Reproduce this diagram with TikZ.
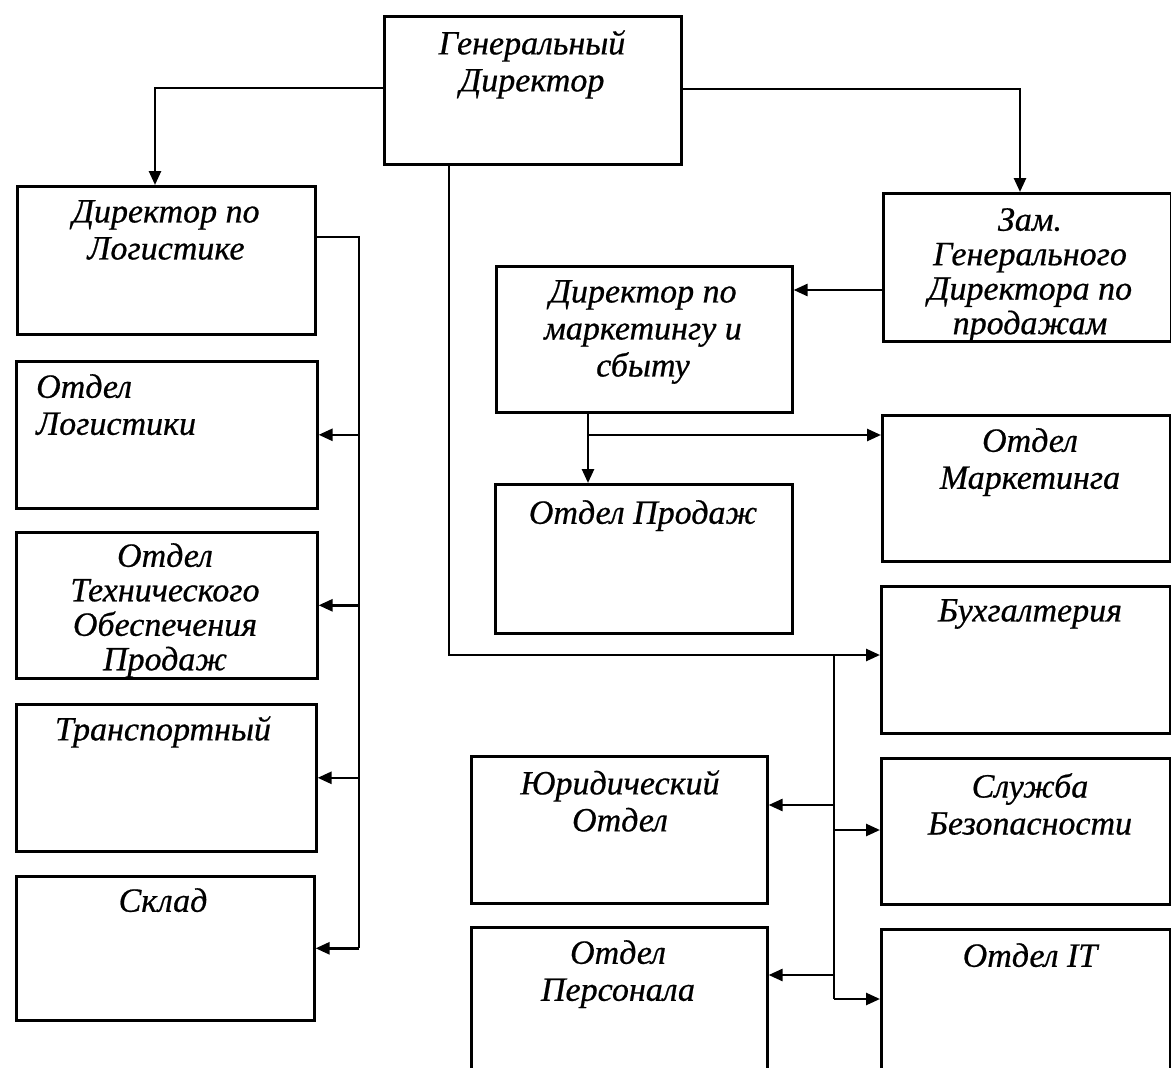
\documentclass[tikz,border=0pt]{standalone}
\usepackage{fontspec}
\setmainfont{Liberation Serif}[ItalicFeatures={FakeBold=0.6}]
\usetikzlibrary{arrows.meta}
\begin{document}
\begin{tikzpicture}[x=1pt,y=-1pt,
  box/.style={draw, line width=2.6pt, anchor=north west, inner sep=0pt},
  lbl/.style={anchor=north, align=center, inner sep=0pt,
    font=\fontsize{34}{37}\selectfont\itshape},
  lbll/.style={lbl, anchor=north west, align=left},
  tight/.style={font=\fontsize{34}{34.5}\selectfont\itshape},
  conn/.style={line width=2.6pt},
  arr/.style={conn, -{Triangle[length=14pt,width=12pt]}}]
\useasboundingbox (0,0) rectangle (1171,1068);
\clip (0,0) rectangle (1171,1068);
\fill[white] (0,0) rectangle (1171,1068);
% boxes
\node[box, minimum width=297pt, minimum height=148pt] (gd)  at (383,15)  {};
\node[box, minimum width=298pt, minimum height=148pt] (dl)  at (16,185)  {};
\node[box, minimum width=301pt, minimum height=147pt] (ol)  at (15,360)  {};
\node[box, minimum width=301pt, minimum height=146pt] (ot)  at (15,531)  {};
\node[box, minimum width=300pt, minimum height=147pt] (tr)  at (15,703)  {};
\node[box, minimum width=298pt, minimum height=144pt] (sk)  at (15,875)  {};
\node[box, minimum width=288pt, minimum height=148pt] (zam) at (882,192) {};
\node[box, minimum width=296pt, minimum height=146pt] (dms) at (495,265) {};
\node[box, minimum width=297pt, minimum height=149pt] (op)  at (494,483) {};
\node[box, minimum width=288pt, minimum height=146pt] (mk)  at (881,414) {};
\node[box, minimum width=289pt, minimum height=147pt] (bu)  at (880,585) {};
\node[box, minimum width=296pt, minimum height=147pt] (yu)  at (470,755) {};
\node[box, minimum width=289pt, minimum height=146pt] (sb)  at (880,757) {};
\node[box, minimum width=296pt, minimum height=160pt] (pe)  at (470,926) {};
\node[box, minimum width=289pt, minimum height=160pt] (it)  at (880,928) {};
% texts
\node[lbl] (gdt)  at (532,30)  {Генеральный\\Директор};
\node[lbl] (dlt)  at (166,200) {Директор по\\Логистике};
\node[lbll] (olt) at (36,374)  {Отдел\\Логистики};
\node[lbl, tight] (ott) at (165,543) {Отдел\\Технического\\Обеспечения\\Продаж};
\node[lbl] (trt)  at (163,716) {Транспортный};
\node[lbl] (skt)  at (163,888) {Склад};
\node[lbl, tight] (zamt) at (1030,208) {Зам.\\Генерального\\Директора по\\продажам};
\node[lbl] (dmst) at (643,280) {Директор по\\маркетингу и\\сбыту};
\node[lbl] (opt)  at (643,500) {Отдел Продаж};
\node[lbl] (mkt)  at (1030,428) {Отдел\\Маркетинга};
\node[lbl] (but)  at (1030,599) {Бухгалтерия};
\node[lbl] (yut)  at (620,770) {Юридический\\Отдел};
\node[lbl] (sbt)  at (1030,773) {Служба\\Безопасности};
\node[lbl] (pet)  at (618,940) {Отдел\\Персонала};
\node[lbl] (itt)  at (1030,943) {Отдел IT};
% junction coordinates
\coordinate (lgd) at (155,88);
\coordinate (rgd) at (1020,89);
\coordinate (lbus) at (359,237);
\coordinate (zb) at (882,290);
\coordinate (mx) at (588,435);
\coordinate (cb) at (449,655);
\coordinate (rb) at (834,655);
\coordinate (ry) at (834,805);
\coordinate (rs) at (834,830);
\coordinate (rp) at (834,975);
\coordinate (ri) at (834,999);
% connectors
\draw[arr] (lgd -| gd.west) -- (lgd) -- (lgd |- dl.north);
\draw[arr] (gd.east |- rgd) -- (rgd) -- (rgd |- zam.north);
\draw[conn] (lbus -| dl.east) -- (lbus) -- (lbus |- sk.east);
\draw[arr] (lbus |- ol.east) -- (ol.east);
\draw[arr] (lbus |- ot.east) -- (ot.east);
\draw[arr] (lbus |- tr.east) -- (tr.east);
\draw[arr] (lbus |- sk.east) -- (sk.east);
\draw[arr] (zb) -- (zb -| dms.east);
\draw[arr] (mx |- dms.south) -- (mx |- op.north);
\draw[arr] (mx) -- (mx -| mk.west);
\draw[arr] (cb |- gd.south) -- (cb) -- (cb -| bu.west);
\draw[conn] (rb) -- (ri);
\draw[arr] (ry) -- (ry -| yu.east);
\draw[arr] (rs) -- (rs -| sb.west);
\draw[arr] (rp) -- (rp -| pe.east);
\draw[arr] (ri) -- (ri -| it.west);
\end{tikzpicture}
\end{document}
